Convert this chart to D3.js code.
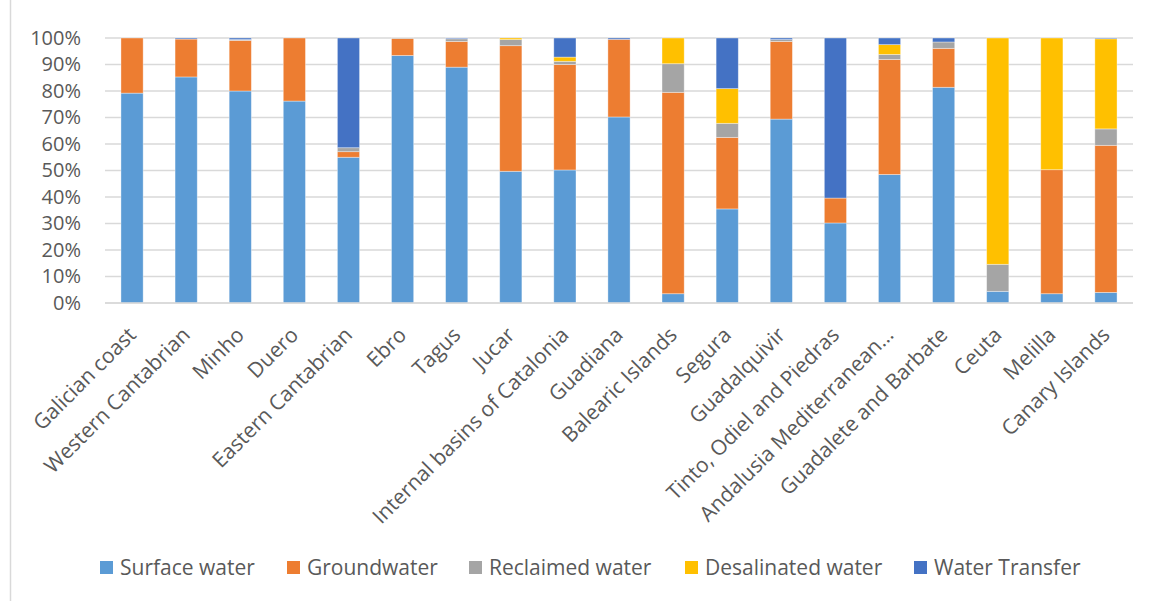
<!DOCTYPE html>
<html>
<head>
<meta charset="utf-8">
<script src="https://cdn.jsdelivr.net/npm/d3@7"></script>
<style>
  html, body { margin: 0; padding: 0; background: #fff; }
  svg { display: block; font-family: "Open Sans", "Liberation Sans", sans-serif; }
</style>
</head>
<body>
<svg id="chart" width="1155" height="601"></svg>
<script>
// River basin districts
const categories = [
  "Galician coast", "Western Cantabrian", "Minho", "Duero", "Eastern Cantabrian",
  "Ebro", "Tagus", "Jucar", "Internal basins of Catalonia", "Guadiana",
  "Balearic Islands", "Segura", "Guadalquivir", "Tinto, Odiel and Piedras",
  "Andalusia Mediterranean…", "Guadalete and Barbate", "Ceuta", "Melilla", "Canary Islands"
];

// Share of each water source (%)
const surfaceWater     = [79.2, 85.3, 80.0, 76.2, 55.0, 93.4, 89.0, 49.7, 50.2, 70.2, 3.5, 35.5, 69.4, 30.2, 48.5, 81.4, 4.4, 3.5, 4.0];
const groundwater      = [20.8, 14.3, 19.1, 23.8, 2.1, 6.4, 9.7, 47.4, 39.8, 29.3, 76.0, 27.0, 29.3, 9.4, 43.4, 14.7, 0.0, 46.8, 55.5];
const reclaimedWater   = [0.0, 0.0, 0.3, 0.0, 1.5, 0.2, 1.0, 2.3, 1.2, 0.0, 10.8, 5.3, 0.7, 0.0, 1.9, 2.4, 10.2, 0.0, 6.2];
const desalinatedWater = [0.0, 0.0, 0.0, 0.0, 0.0, 0.0, 0.0, 0.6, 1.6, 0.0, 9.7, 13.1, 0.0, 0.0, 3.7, 0.0, 85.4, 49.7, 34.0];
const waterTransfer    = [0.0, 0.4, 0.6, 0.0, 41.4, 0.0, 0.3, 0.0, 7.2, 0.5, 0.0, 19.1, 0.6, 60.4, 2.5, 1.5, 0.0, 0.0, 0.3];

const seriesNames = ["Surface water", "Groundwater", "Reclaimed water", "Desalinated water", "Water Transfer"];
const seriesColors = ["#5B9BD5", "#ED7D31", "#A5A5A5", "#FFC000", "#4472C4"];
const yTicks = [0, 10, 20, 30, 40, 50, 60, 70, 80, 90, 100];

const seriesValues = [surfaceWater, groundwater, reclaimedWater, desalinatedWater, waterTransfer];
const rows = categories.map((c, i) => {
  const r = { category: c };
  seriesNames.forEach((s, k) => { r[s] = seriesValues[k][i]; });
  return r;
});

const svg = d3.select("#chart");
const textColor = "#595959";
const gridColor = "#d9d9d9";

const plot = { left: 105, right: 1133, top: 38, bottom: 303 };

const x = d3.scaleBand()
  .domain(categories)
  .range([plot.left, plot.right])
  .paddingInner(0.59)
  .paddingOuter(0.295);

const y = d3.scaleLinear().domain([0, 100]).range([plot.bottom, plot.top]);

// chart frame edge
svg.append("line")
  .attr("x1", 10.5).attr("x2", 10.5).attr("y1", 0).attr("y2", 601)
  .attr("stroke", gridColor).attr("stroke-width", 1.5);

// gridlines
svg.append("g")
  .selectAll("line")
  .data(yTicks)
  .join("line")
  .attr("x1", plot.left).attr("x2", plot.right)
  .attr("y1", d => y(d)).attr("y2", d => y(d))
  .attr("stroke", gridColor).attr("stroke-width", 1.5);

// y axis labels
const yAxis = d3.axisLeft(y)
  .tickValues(yTicks)
  .tickFormat(d => d + "%")
  .tickSize(0)
  .tickPadding(24);
const gy = svg.append("g").attr("transform", `translate(${plot.left},0)`).call(yAxis);
gy.select(".domain").remove();
gy.selectAll("text")
  .attr("fill", textColor)
  .style("font-size", "20px")
  .style("font-family", "'Open Sans', sans-serif");

// stacked bars
const stack = d3.stack().keys(seriesNames);
const layers = stack(rows);

svg.append("g")
  .selectAll("g")
  .data(layers)
  .join("g")
  .attr("fill", (d, i) => seriesColors[i])
  .selectAll("rect")
  .data(d => d)
  .join("rect")
  .attr("x", d => x(d.data.category))
  .attr("width", x.bandwidth())
  .attr("y", d => y(d[1]))
  .attr("height", d => Math.max(0, y(d[0]) - y(d[1])))
  .attr("stroke", "#ffffff")
  .attr("stroke-opacity", d => (d[1] - d[0]) > 0 ? 0.45 : 0)
  .attr("stroke-width", 0.8);

// baseline
svg.append("line")
  .attr("x1", plot.left).attr("x2", plot.right)
  .attr("y1", y(0)).attr("y2", y(0))
  .attr("stroke", gridColor).attr("stroke-width", 1.5);

// x axis labels, rotated
const xAxis = d3.axisBottom(x).tickSize(0).tickPadding(0);
const gx = svg.append("g").attr("transform", `translate(0,${plot.bottom})`).call(xAxis);
gx.select(".domain").remove();
gx.selectAll("text")
  .attr("fill", textColor)
  .style("font-size", "21px")
  .style("font-family", "'Open Sans', sans-serif")
  .attr("text-anchor", "end")
  .attr("y", 0)
  .attr("dy", "0.35em")
  .attr("transform", "translate(0,28) rotate(-45)");

// legend
const legendX = [100, 287, 469, 685, 914];
const legend = svg.append("g")
  .selectAll("g")
  .data(seriesNames)
  .join("g")
  .attr("transform", (d, i) => `translate(${legendX[i]},561)`);
legend.append("rect")
  .attr("width", 13).attr("height", 13)
  .attr("fill", (d, i) => seriesColors[i]);
legend.append("text")
  .attr("x", 20).attr("y", 14)
  .attr("fill", textColor)
  .style("font-size", "21px")
  .text(d => d);
</script>
</body>
</html>
